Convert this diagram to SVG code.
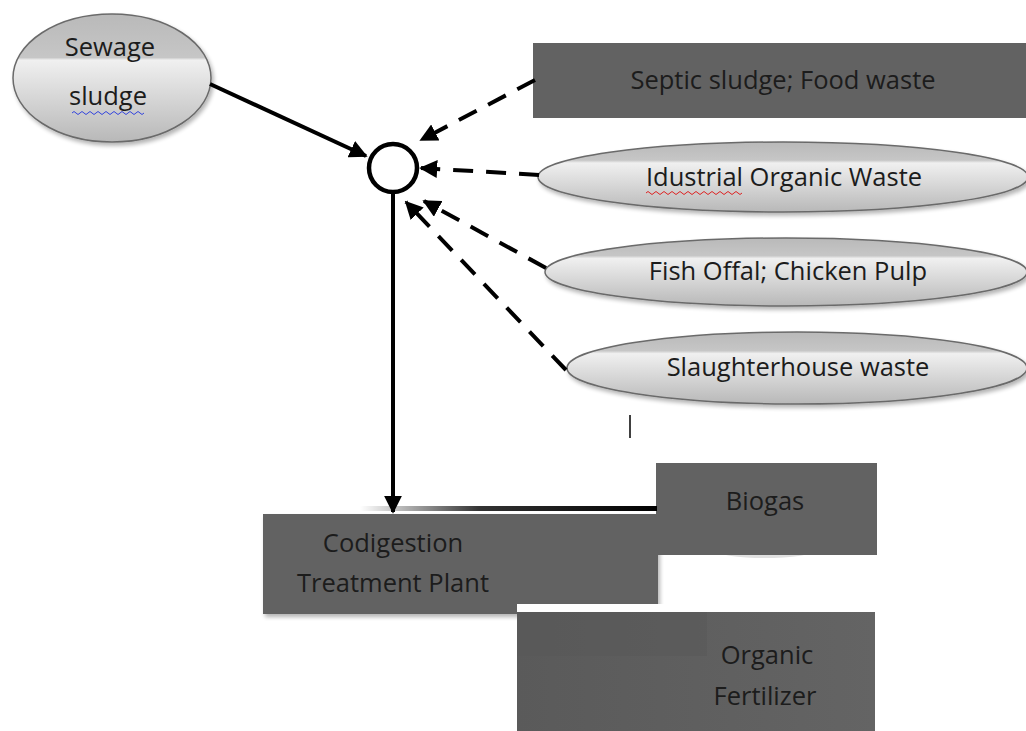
<svg xmlns="http://www.w3.org/2000/svg" width="1026" height="731" viewBox="0 0 1026 731">
<defs>
<linearGradient id="eg" x1="0" y1="0" x2="0" y2="1">
<stop offset="0" stop-color="#b9b9b9"/>
<stop offset="0.34" stop-color="#c6c6c6"/>
<stop offset="0.36" stop-color="#f0f0f0"/>
<stop offset="1" stop-color="#b8b8b8"/>
</linearGradient>
<linearGradient id="eg2" x1="0" y1="0" x2="0" y2="1">
<stop offset="0" stop-color="#b9b9b9"/>
<stop offset="0.26" stop-color="#c6c6c6"/>
<stop offset="0.3" stop-color="#f0f0f0"/>
<stop offset="1" stop-color="#b8b8b8"/>
</linearGradient>
<linearGradient id="hl" x1="0" y1="0" x2="1" y2="0">
<stop offset="0" stop-color="#000" stop-opacity="0"/>
<stop offset="0.4" stop-color="#000" stop-opacity="0.8"/>
<stop offset="1" stop-color="#000"/>
</linearGradient>
<linearGradient id="wb" x1="0" y1="0" x2="1" y2="0">
<stop offset="0" stop-color="#fff"/>
<stop offset="0.7" stop-color="#fff"/>
<stop offset="1" stop-color="#fff" stop-opacity="0"/>
</linearGradient>
<linearGradient id="ob" x1="0" y1="0" x2="1" y2="0">
<stop offset="0" stop-color="#5a5a5a"/>
<stop offset="1" stop-color="#646464"/>
</linearGradient>
<marker id="ah" viewBox="0 0 10 10" refX="9" refY="5" markerWidth="4.5" markerHeight="4.5" orient="auto" markerUnits="strokeWidth">
<path d="M0,0 L10,5 L0,10 z" fill="#000"/>
</marker>
<filter id="sh" x="-10%" y="-20%" width="120%" height="150%">
<feGaussianBlur in="SourceAlpha" stdDeviation="2"/>
<feOffset dx="2" dy="3" result="b"/>
<feComponentTransfer><feFuncA type="linear" slope="0.3"/></feComponentTransfer>
<feMerge><feMergeNode/><feMergeNode in="SourceGraphic"/></feMerge>
</filter>
</defs>
<style>
.t{font-family:"Open Sans","Liberation Sans",sans-serif;font-size:25.5px;fill:#1c1c1c;text-anchor:middle}
.el{stroke:#6a6a6a;stroke-width:1.5;filter:url(#sh)}
.rc{fill:#626262}
.sol{stroke:#000;stroke-width:4;fill:none}
.dsh{stroke:#000;stroke-width:4;fill:none;stroke-dasharray:20 13}
</style>
<rect width="1026" height="731" fill="#fff"/>

<g id="sewage">
<ellipse class="el" cx="112" cy="78" rx="99" ry="64" fill="url(#eg)"/>
<text class="t" x="110" y="56">Sewage</text>
<text class="t" x="108" y="105">sludge</text>
<path d="M72,113 q2,-3 4,0 t4,0 t4,0 t4,0 t4,0 t4,0 t4,0 t4,0 t4,0 t4,0 t4,0 t4,0 t4,0 t4,0 t4,0 t4,0 t4,0 t4,0" stroke="#3344dd" stroke-width="1" fill="none"/>
</g>

<g id="septic">
<rect class="rc" x="533" y="43" width="493" height="75"/>
<text class="t" x="783" y="89">Septic sludge; Food waste</text>
</g>

<g id="industrial">
<ellipse class="el" cx="783" cy="177" rx="245" ry="35" fill="url(#eg2)"/>
<text class="t" x="784" y="186">Idustrial Organic Waste</text>
<path d="M646,193 q2,-3 4,0 t4,0 t4,0 t4,0 t4,0 t4,0 t4,0 t4,0 t4,0 t4,0 t4,0 t4,0 t4,0 t4,0 t4,0 t4,0 t4,0 t4,0 t4,0 t4,0 t4,0 t4,0 t4,0 t4,0" stroke="#dd2222" stroke-width="1" fill="none"/>
</g>

<g id="fish">
<ellipse class="el" cx="786" cy="272" rx="241" ry="34" fill="url(#eg2)"/>
<text class="t" x="788" y="280">Fish Offal; Chicken Pulp</text>
</g>

<g id="slaughter">
<ellipse class="el" cx="797" cy="368" rx="230" ry="36" fill="url(#eg2)"/>
<text class="t" x="798" y="376">Slaughterhouse waste</text>
</g>

<g id="mark">
<line x1="630" y1="415" x2="630" y2="438" stroke="#000" stroke-width="1.5"/>
</g>

<g id="junction">
<circle cx="393" cy="168" r="24" fill="#fff" stroke="#000" stroke-width="4.5"/>
</g>

<g id="codigestion">
<rect class="rc" x="263" y="514" width="395" height="100" filter="url(#sh)"/>
<text class="t" x="393" y="552">Codigestion</text>
<text class="t" x="393" y="592">Treatment Plant</text>
</g>

<g id="biogas">
<ellipse cx="765" cy="550" rx="50" ry="8" fill="#000" opacity="0.12"/>
<rect class="rc" x="656" y="463" width="221" height="92"/>
<text class="t" x="765" y="510">Biogas</text>
</g>

<g id="fertilizer">
<rect x="517" y="604" width="300" height="9" fill="url(#wb)"/>
<rect x="517" y="612" width="358" height="119" fill="url(#ob)"/>
<rect x="517" y="612" width="190" height="44" fill="#585858" opacity="0.5"/>
<text class="t" x="767" y="664">Organic</text>
<text class="t" x="765" y="705">Fertilizer</text>
</g>

<g id="connectors">
<line class="sol" x1="210" y1="84" x2="366" y2="156" marker-end="url(#ah)"/>
<line class="sol" x1="393" y1="193" x2="393" y2="512" marker-end="url(#ah)"/>
<line class="dsh" x1="535" y1="80" x2="421" y2="140" marker-end="url(#ah)"/>
<line class="dsh" x1="539" y1="175" x2="421" y2="168" marker-end="url(#ah)"/>
<line class="dsh" x1="546" y1="268" x2="424" y2="201" marker-end="url(#ah)"/>
<line class="dsh" x1="566" y1="370" x2="406" y2="202" marker-end="url(#ah)"/>
<rect x="360" y="506" width="297" height="5" fill="url(#hl)"/>
</g>
</svg>
